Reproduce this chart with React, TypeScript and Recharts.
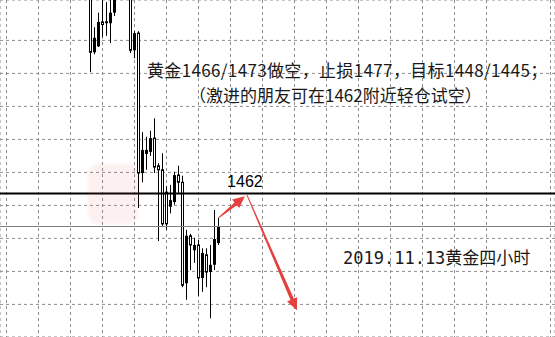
import React from "react";
import {
  ComposedChart,
  Bar,
  XAxis,
  YAxis,
  CartesianGrid,
  ReferenceLine,
  ReferenceDot,
} from "recharts";

const WIDTH = 555;
const HEIGHT = 337;

// XAUUSD H4 bars; slot = position on the time axis
const barSlots = [21, 22, 23, 24, 25, 26, 27, 31, 32, 33, 34, 35, 36, 37, 38, 39, 40, 41, 42, 43, 44, 45, 46, 47, 48, 49, 50, 51, 52, 53];
const opens = [1492.5, 1483.4, 1484.3, 1488.0, 1487.8, 1487.8, 1489.4, 1492.8, 1483.7, 1486.3, 1465.1, 1468.0, 1468.3, 1470.4, 1466.2, 1465.6, 1462.2, 1460.0, 1460.7, 1464.8, 1463.7, 1448.4, 1455.6, 1453.4, 1454.2, 1449.2, 1452.7, 1450.1, 1451.2, 1454.5];
const highs = [1492.8, 1487.2, 1489.4, 1492.1, 1491.0, 1491.6, 1492.5, 1493.1, 1486.6, 1486.6, 1471.3, 1470.6, 1471.5, 1473.4, 1466.6, 1468.1, 1463.1, 1463.3, 1465.3, 1466.2, 1464.7, 1456.5, 1455.9, 1455.3, 1455.0, 1453.7, 1453.7, 1454.2, 1459.5, 1458.3];
const lows = [1480.4, 1483.1, 1484.2, 1485.7, 1485.9, 1484.8, 1488.9, 1483.3, 1482.5, 1459.8, 1463.7, 1465.6, 1467.7, 1465.1, 1454.8, 1457.1, 1456.5, 1459.0, 1460.3, 1462.1, 1447.8, 1445.9, 1450.4, 1451.5, 1446.5, 1447.1, 1447.8, 1443.1, 1450.4, 1454.2];
const closes = [1483.4, 1485.6, 1488.0, 1487.6, 1488.1, 1489.4, 1492.2, 1483.7, 1486.3, 1465.1, 1468.6, 1468.6, 1470.4, 1466.0, 1465.6, 1457.4, 1457.4, 1461.0, 1464.8, 1463.7, 1448.1, 1455.6, 1454.2, 1454.2, 1449.2, 1453.0, 1450.1, 1451.2, 1455.1, 1457.0];

const keyLevel = 1462;
const priceDomain = [1440.26, 1491.32];
const slotDomain = [-1.625, 137.125];
const gridPrices = [1490.2, 1485.2, 1480.2, 1475.2, 1470.2, 1465.2, 1460.2, 1455.2, 1450.2, 1445.2];
const gridSlots = [0, 8, 16, 24, 32, 40, 48, 56, 64, 72, 80, 88, 96, 104, 112, 120, 128, 136];

// hand-drawn arrows: bounce to 1462, then down to target
const arrowUp = [{ x: 53, y: 1458.3 }, { x: 59.6, y: 1461.6 }];
const arrowDown = [{ x: 60.1, y: 1461.8 }, { x: 72.6, y: 1444.3 }];
const labelSlot = 59.6;

const noteLines = [
  "黄金1466/1473做空，止损1477，目标1448/1445；",
  "（激进的朋友可在1462附近轻仓试空）",
];
const dateNote = "2019.11.13黄金四小时";

const rows = barSlots.map((slot, k) => ({
  slot,
  open: opens[k],
  high: highs[k],
  low: lows[k],
  close: closes[k],
  range: [lows[k], highs[k]],
}));

const lastClose = closes[closes.length - 1];

function Candle(props: any) {
  const { x, y, width, height, payload } = props;
  if (payload == null || height == null) return null;
  const { open, close, high, low } = payload;
  const cx = Math.round(x + width / 2 - 0.5) + 0.5;
  const py = (v: number) => y + ((high - v) / (high - low)) * height;
  const top = py(Math.max(open, close));
  const bot = py(Math.min(open, close));
  const bull = close > open;
  return (
    <g>
      <line x1={cx} x2={cx} y1={y} y2={y + height} stroke="#000" strokeWidth={1} />
      {bull ? (
        <rect x={cx - 1.5} y={top} width={3} height={Math.max(bot - top, 1)} fill="#000" />
      ) : (
        <rect x={cx - 1} y={top} width={2} height={Math.max(bot - top, 1)} fill="#fff" stroke="#000" strokeWidth={1} />
      )}
    </g>
  );
}

function TaperArrow(props: any) {
  const { x1, y1, x2, y2 } = props;
  const dx = x2 - x1;
  const dy = y2 - y1;
  const len = Math.hypot(dx, dy) || 1;
  const ux = dx / len;
  const uy = dy / len;
  const nx = -uy;
  const ny = ux;
  const head = 12;
  const headW = 5.5;
  const w0 = 0.5;
  const w1 = 1.8;
  const bx = x2 - ux * head;
  const by = y2 - uy * head;
  const pts = [
    [x1 + nx * w0, y1 + ny * w0],
    [bx + nx * w1, by + ny * w1],
    [bx + nx * headW, by + ny * headW],
    [x2, y2],
    [bx - nx * headW, by - ny * headW],
    [bx - nx * w1, by - ny * w1],
    [x1 - nx * w0, y1 - ny * w0],
  ];
  return <polygon points={pts.map((p) => p.join(",")).join(" ")} fill="#e5403d" />;
}

export default function App() {
  return (
    <div style={{ position: "absolute", left: 0, top: 0, width: WIDTH, height: HEIGHT, background: "#fff", overflow: "hidden" }}>
      <ComposedChart width={WIDTH} height={HEIGHT} data={rows} margin={{ top: 0, right: 0, bottom: 0, left: 0 }}>
        <CartesianGrid stroke="#8c8c8c" strokeDasharray="3 3" />
        <XAxis type="number" dataKey="slot" domain={slotDomain} ticks={gridSlots} allowDataOverflow hide />
        <YAxis type="number" domain={priceDomain} ticks={gridPrices} allowDataOverflow hide />
        <Bar dataKey="range" barSize={4} shape={<Candle />} isAnimationActive={false} />
        <ReferenceLine y={lastClose} stroke="#808080" strokeWidth={1} />
        <ReferenceLine y={keyLevel} stroke="#000" strokeWidth={2} />
        <ReferenceLine segment={arrowUp} shape={TaperArrow} ifOverflow="visible" />
        <ReferenceLine segment={arrowDown} shape={TaperArrow} ifOverflow="visible" />
        <ReferenceDot
          x={labelSlot}
          y={keyLevel}
          r={0}
          fill="none"
          stroke="none"
          label={{
            value: String(keyLevel),
            position: "top",
            offset: 6.5,
            fill: "#000",
            fontSize: 16,
            fontFamily: "Liberation Sans, Arial, sans-serif",
          }}
        />
      </ComposedChart>
      <svg width={WIDTH} height={HEIGHT} style={{ position: "absolute", left: 0, top: 0, pointerEvents: "none" }}>
        <g fontFamily="'Noto Sans CJK SC', sans-serif" fontSize={17} fill="#1a1a1a">
          <text x={147} y={77} letterSpacing={0.35}>{noteLines[0]}</text>
          <text x={189} y={101.5}>{noteLines[1]}</text>
        </g>
        <text x={343} y={264} fontFamily="'DejaVu Sans Mono', 'Noto Sans CJK SC', monospace" fontSize={17} fill="#1a1a1a">
          {dateNote}
        </text>
      </svg>
      <div
        style={{
          position: "absolute",
          left: 88,
          top: 164,
          width: 50,
          height: 60,
          borderRadius: 10,
          background: "rgba(225, 90, 90, 0.09)",
          filter: "blur(1.5px)",
          pointerEvents: "none",
        }}
      />
    </div>
  );
}
